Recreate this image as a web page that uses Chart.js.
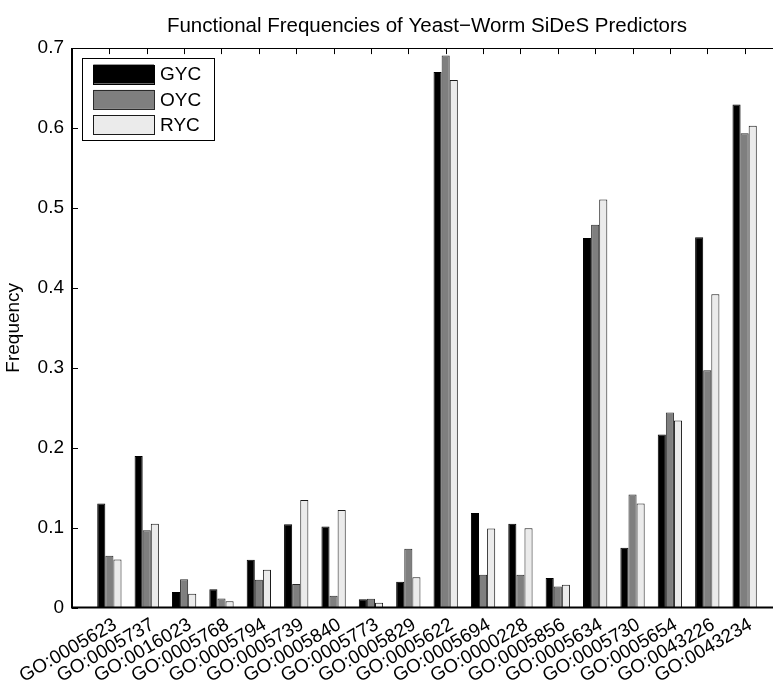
<!DOCTYPE html>
<html>
<head>
<meta charset="utf-8">
<script src="https://cdn.jsdelivr.net/npm/chart.js@4.4.0/dist/chart.umd.min.js"></script>
<style>
  html, body { margin: 0; padding: 0; background: #fff; overflow: hidden; }
  #wrap { width: 800px; height: 686px; }
</style>
</head>
<body>
<div id="wrap"><canvas id="c" width="800" height="686"></canvas></div>
<script>
const categories = ['GO:0005623','GO:0005737','GO:0016023','GO:0005768','GO:0005794','GO:0005739',
  'GO:0005840','GO:0005773','GO:0005829','GO:0005622','GO:0005694','GO:0000228','GO:0005856',
  'GO:0005634','GO:0005730','GO:0005654','GO:0043226','GO:0043234'];
const seriesNames = ['GYC', 'OYC', 'RYC'];
const gyc = [0.130, 0.1895, 0.0194, 0.0227, 0.0597, 0.1042, 0.1013, 0.0102, 0.0322, 0.670, 0.1184, 0.1047, 0.0368, 0.4625, 0.0747, 0.2166, 0.4634, 0.6294];
const oyc = [0.0647, 0.0968, 0.0352, 0.0114, 0.0347, 0.0293, 0.0148, 0.0110, 0.0734, 0.6906, 0.0410, 0.0410, 0.0264, 0.4790, 0.1413, 0.2440, 0.2969, 0.5936];
const ryc = [0.0600, 0.1047, 0.0173, 0.0077, 0.0472, 0.1346, 0.1221, 0.0060, 0.0377, 0.6600, 0.0988, 0.0993, 0.0285, 0.5104, 0.1300, 0.2341, 0.3920, 0.6028];
const yTicks = [0, 0.1, 0.2, 0.3, 0.4, 0.5, 0.6, 0.7];
const yTickLabels = ['0', '0.1', '0.2', '0.3', '0.4', '0.5', '0.6', '0.7'];

const FONT = 'Liberation Sans, Arial, sans-serif';
const toPoints = arr => arr.map((v, i) => ({ x: i + 1, y: v }));

const fills = ['#000000', '#7f7f7f', '#ebebeb'];
const borders = ['#000000', '#2a2a2a', '#1a1a1a'];
const seriesData = [gyc, oyc, ryc];

const datasets = seriesNames.map((name, k) => ({
  label: name,
  data: toPoints(seriesData[k]),
  backgroundColor: fills[k],
  borderColor: borders[k],
  borderWidth: 1,
  borderSkipped: 'bottom',
  categoryPercentage: 0.65,
  barPercentage: 1.0
}));

const TICK_LEN = 6;

const matlabAxes = {
  id: 'matlabAxes',
  beforeDatasetsDraw(chart) {
    const { ctx, chartArea: a, scales: { x, y } } = chart;
    ctx.save();
    ctx.strokeStyle = '#000';
    ctx.lineWidth = 1;
    ctx.beginPath();
    categories.forEach((c, i) => {
      const px = Math.round(x.getPixelForValue(i + 1)) + 0.5;
      ctx.moveTo(px, a.bottom); ctx.lineTo(px, a.bottom - TICK_LEN);
      ctx.moveTo(px, a.top); ctx.lineTo(px, a.top + TICK_LEN);
    });
    yTicks.forEach(v => {
      const py = Math.round(y.getPixelForValue(v)) + 0.5;
      ctx.moveTo(a.left, py); ctx.lineTo(a.left + TICK_LEN, py);
      ctx.moveTo(a.right, py); ctx.lineTo(a.right - TICK_LEN, py);
    });
    ctx.stroke();
    ctx.restore();
  },
  afterDraw(chart) {
    const { ctx, chartArea: a } = chart;
    ctx.save();
    ctx.strokeStyle = '#000';
    ctx.lineWidth = 1;
    ctx.beginPath();
    ctx.moveTo(a.left, Math.round(a.top) + 0.5);
    ctx.lineTo(a.right, Math.round(a.top) + 0.5);
    ctx.lineTo(a.right, a.bottom);
    ctx.stroke();
    ctx.lineWidth = 2;
    ctx.beginPath();
    ctx.moveTo(a.left, a.top);
    ctx.lineTo(a.left, a.bottom);
    ctx.lineTo(a.right, a.bottom);
    ctx.stroke();

    // legend box
    const bx = a.left + 9.7, by = a.top + 10.3, bw = 131.6, bh = 82;
    ctx.fillStyle = '#fff';
    ctx.fillRect(bx, by, bw, bh);
    ctx.lineWidth = 1;
    ctx.strokeStyle = '#000';
    ctx.strokeRect(Math.round(bx) + 0.5, Math.round(by) + 0.5, Math.round(bw), Math.round(bh));
    ctx.font = '19px ' + FONT;
    ctx.textBaseline = 'middle';
    ctx.textAlign = 'left';
    chart.data.datasets.forEach((ds, k) => {
      const cy = by + 15.7 + k * 25.3;
      const sx = bx + 11.6, sw = 60.7, sh = 19;
      ctx.fillStyle = ds.backgroundColor;
      ctx.fillRect(sx, cy - sh / 2, sw, sh);
      ctx.strokeStyle = ds.borderColor;
      ctx.strokeRect(Math.round(sx) + 0.5, Math.round(cy - sh / 2) + 0.5, Math.round(sw), Math.round(sh));
      ctx.fillStyle = '#000';
      ctx.fillText(ds.label, bx + 78.3, cy + 1);
    });
    ctx.restore();
  }
};

new Chart(document.getElementById('c'), {
  type: 'bar',
  data: { datasets },
  plugins: [matlabAxes],
  options: {
    responsive: false,
    animation: false,
    layout: { padding: { left: 0, right: 18, top: 14, bottom: 0 } },
    plugins: {
      legend: { display: false },
      tooltip: { enabled: false },
      title: {
        display: true,
        text: 'Functional Frequencies of Yeast\u2212Worm SiDeS Predictors',
        color: '#000',
        font: { family: FONT, size: 20.5, weight: 'normal' },
        padding: { top: 0, bottom: 9.5 },
        fullSize: false
      }
    },
    scales: {
      x: {
        type: 'linear',
        min: 0,
        max: categories.length + 1,
        offset: false,
        afterBuildTicks(scale) { scale.ticks = categories.map((c, i) => ({ value: i + 1 })); },
        afterFit(scale) { scale.height = 78.5; },
        grid: { display: false, drawTicks: false },
        border: { display: false },
        ticks: {
          autoSkip: false,
          minRotation: 30,
          maxRotation: 30,
          padding: 6,
          labelOffset: 6,
          color: '#000',
          font: { family: FONT, size: 19 },
          callback: (v) => categories[v - 1] || ''
        }
      },
      y: {
        min: 0,
        max: 0.7,
        afterBuildTicks(scale) { scale.ticks = yTicks.map(v => ({ value: v })); },
        afterFit(scale) { scale.width = 72; },
        grid: { display: false, drawTicks: false },
        border: { display: false },
        title: {
          display: true,
          text: 'Frequency',
          color: '#000',
          font: { family: FONT, size: 19 },
          padding: { top: 2, bottom: 0 }
        },
        ticks: {
          padding: 8,
          color: '#000',
          font: { family: FONT, size: 19 },
          callback: (v) => { const i = yTicks.findIndex(t => Math.abs(t - v) < 1e-9); return i >= 0 ? yTickLabels[i] : ''; }
        }
      }
    }
  }
});
</script>
</body>
</html>
